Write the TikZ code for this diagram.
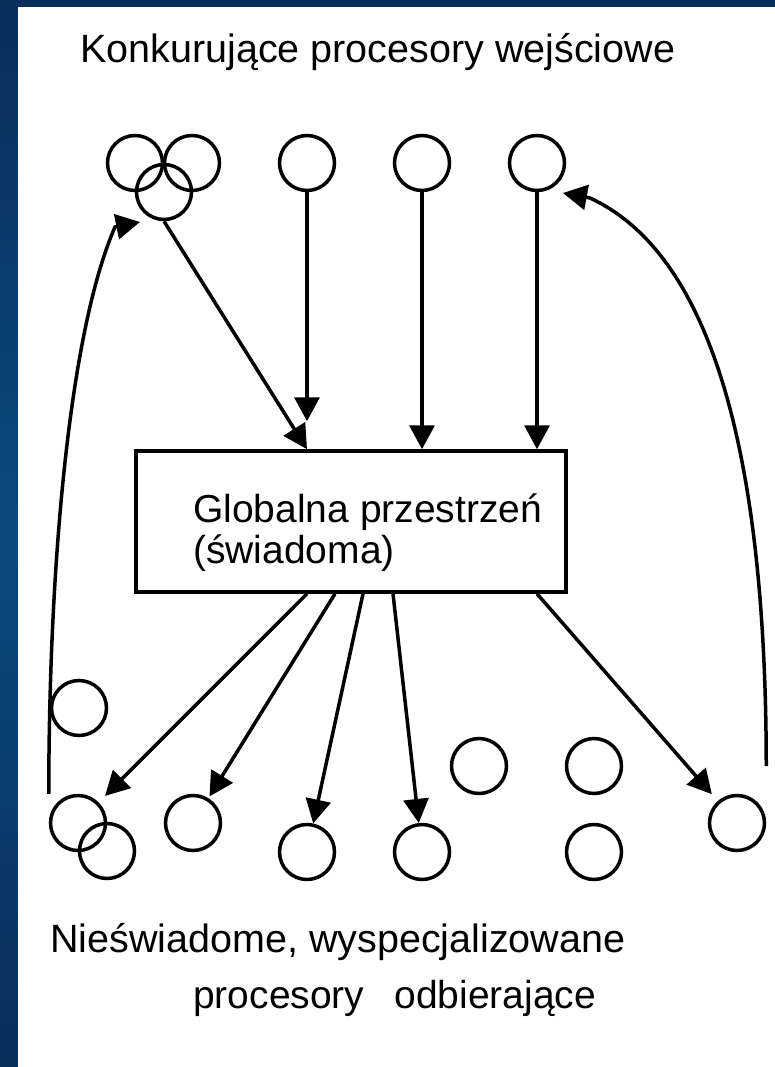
\documentclass[tikz,border=0pt]{standalone}
\usepackage{fontspec}
\setmainfont{Liberation Sans}
\usetikzlibrary{arrows.meta, positioning, calc}
\definecolor{slideblue}{RGB}{12, 74, 128}
\definecolor{slidenavy}{RGB}{8, 46, 90}

\begin{document}
\begin{tikzpicture}[x=1pt, y=-1pt,
  proc/.style={circle, draw, line width=3.5pt, minimum size=55pt, inner sep=0pt},
  arr/.style={line width=3.5pt, -{Triangle[length=24pt, width=25pt]}},
  lbl/.style={anchor=base west, inner sep=0pt, font=\fontsize{39.5}{41}\selectfont}]
  \useasboundingbox (0,0) rectangle (775,1067);

  % Slide background
  \shade[top color=slidenavy, bottom color=slidenavy, middle color=slideblue] (0,0) rectangle (775,1067);
  \fill[white] (18,7) rectangle (775,1067);

  % Headings
  \node[lbl] (intitle) at (80,63) {Konkurujące procesory wejściowe};
  \node[lbl] (outtitle) at (50,952) {Nieświadome, wyspecjalizowane};
  \node[lbl, font=\fontsize{39}{41}\selectfont] (outtitle2) at (193,1008) {procesory\hspace{30pt}odbierające};

  % Input processors
  \node[proc] (in1a) at (135,163) {};
  \node[proc] (in1b) at (192,163) {};
  \node[proc] (in1c) at (164,192) {};
  \node[proc] (in2) at (307,163) {};
  \node[proc] (in3) at (422,163) {};
  \node[proc] (in4) at (537,163) {};

  % Global workspace
  \node[draw, line width=3.5pt, minimum width=430pt, minimum height=141pt, inner sep=0pt] (global) at (351,521.5) {};
  \node[lbl, font=\fontsize{39}{41}\selectfont] (gtext1) at (193,522) {Globalna przestrzeń};
  \node[lbl, font=\fontsize{39}{41}\selectfont] (gtext2) at (193,563) {(świadoma)};

  % Receiving processors
  \node[proc] (out0) at (79,708) {};
  \node[proc] (out1a) at (78,823) {};
  \node[proc] (out1b) at (107,851) {};
  \node[proc] (out2) at (193,823) {};
  \node[proc] (out3) at (307,852) {};
  \node[proc] (out4) at (422,852) {};
  \node[proc] (out5) at (479,766) {};
  \node[proc] (out6) at (594,766) {};
  \node[proc] (out7) at (594,852) {};
  \node[proc] (out8) at (737,823) {};

  % Arrows into the workspace
  \draw[arr] (in1c.south) -- (global.north -| in2);
  \draw[arr] (in2.south) -- ($(in2 |- global.north)+(0,-28)$);
  \draw[arr] (in3.south) -- (global.north -| in3);
  \draw[arr] (in4.south) -- (global.north -| in4);

  % Broadcast arrows
  \draw[arr, shorten >=9pt] ([xshift=-44pt]global.south) -- (out1a);
  \draw[arr, shorten >=2pt] ([xshift=-16pt]global.south) -- (out2);
  \draw[arr] ([xshift=12pt]global.south) -- (out3);
  \draw[arr] ([xshift=42pt]global.south) -- (out4);
  \draw[arr, shorten >=9pt] ([xshift=186pt]global.south) -- (out8);

  % Feedback loops
  \coordinate (backL) at (140,222);
  \coordinate (backR) at (563,193);
  \draw[arr] (out1a.west |- out1a.north) .. controls (49,560) and (70,330) .. (115,227) -- (backL);
  \draw[arr] (out8.east |- out6) .. controls (766,417) and (698,248) .. (590,198) -- (backR);
\end{tikzpicture}
\end{document}
